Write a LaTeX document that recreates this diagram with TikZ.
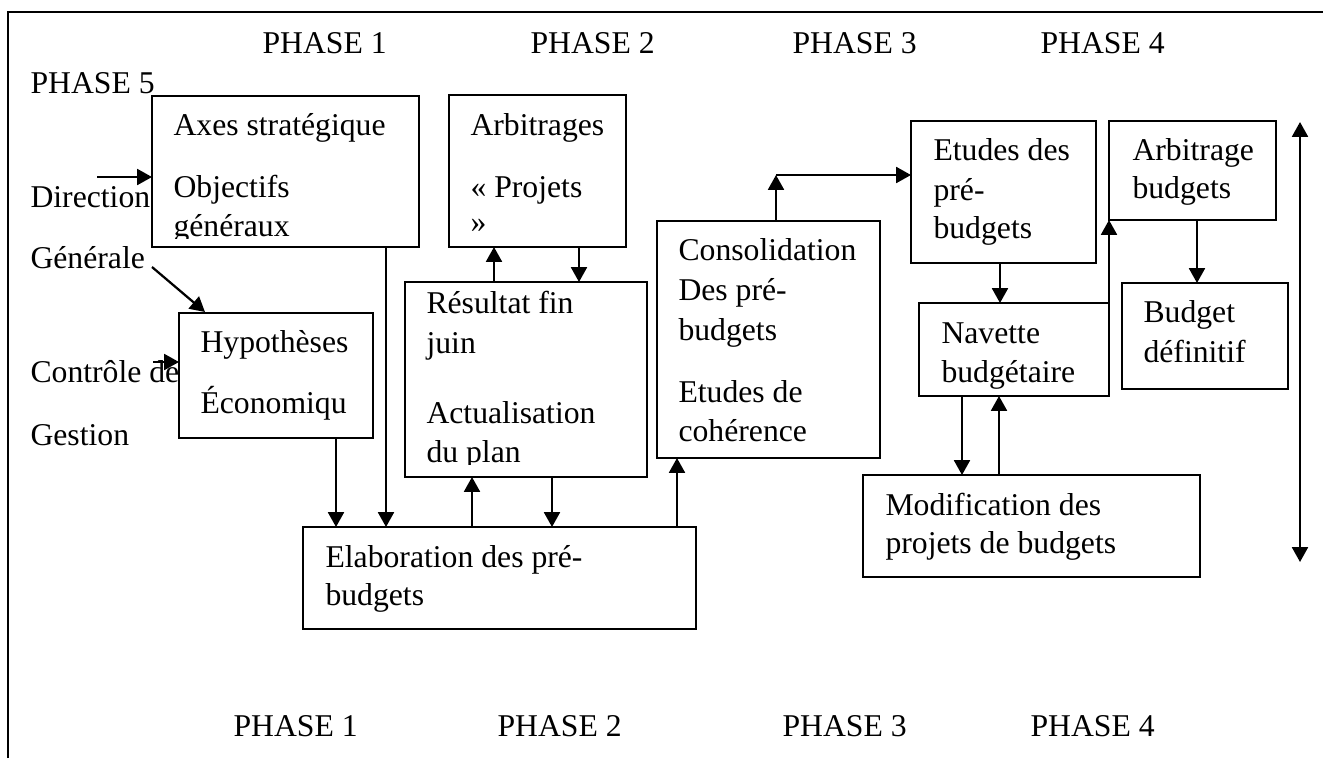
\documentclass[tikz,border=0pt]{standalone}
\usepackage{fontspec}
\setmainfont{Liberation Serif}
\usetikzlibrary{arrows.meta}
% one unit = one pixel of the layout grid, y growing downwards
\newcommand\pxu{0.3786pt}
% \procbox{name}{x1}{y1}{x2}{y2}: a framed rectangle given by its corners
\newcommand\procbox[5]{%
  \node[box, minimum width={(#4-#2)*\pxu}, minimum height={(#5-#3)*\pxu}]
    (#1) at ({(#2+#4)/2},{(#3+#5)/2}) {};}
\begin{document}
\begin{tikzpicture}[x=\pxu, y=-\pxu,
  box/.style={draw, line width=0.7pt, rectangle, inner sep=0pt, outer sep=0pt},
  lbl/.style={anchor=base west, inner sep=0pt, font=\fontsize{12}{14}\selectfont},
  arr/.style={line width=0.85pt, -{Triangle[length=5.6pt,width=6pt]}},
  dblarr/.style={line width=0.85pt, {Triangle[length=5.6pt,width=6pt]}-{Triangle[length=5.6pt,width=6pt]}},
  frame/.style={line width=0.75pt}]
\useasboundingbox (0,0) rectangle (1323,758);

% page frame (top and left rules)
\coordinate (fBL) at (8,758);
\coordinate (fTL) at (8,12);
\coordinate (fTR) at (1323,12);
\draw[frame] (fBL) -- (fTL) -- (fTR);

% phase headings
\node[lbl] (ph1) at (262,53) {PHASE 1};
\node[lbl] (ph2) at (530,53) {PHASE 2};
\node[lbl] (ph3) at (792,53) {PHASE 3};
\node[lbl] (ph4) at (1040,53) {PHASE 4};
\node[lbl] (ph5) at (30,93) {PHASE 5};

% phase footers
\node[lbl] (fp1) at (233,736) {PHASE 1};
\node[lbl] (fp2) at (497,736) {PHASE 2};
\node[lbl] (fp3) at (782,736) {PHASE 3};
\node[lbl] (fp4) at (1030,736) {PHASE 4};

% actors on the left
\node[lbl] (dir)  at (30,207) {Direction};
\node[lbl] (gen)  at (30,268) {Générale};
\node[lbl] (ctrl) at (30,382) {Contrôle de};
\node[lbl] (gest) at (30,445) {Gestion};

% process boxes
\procbox{axes}{152}{96}{419}{247}
\procbox{hyp}{179}{313}{373}{438}
\procbox{elab}{303}{527}{696}{629}
\procbox{res}{405}{282}{647}{477}
\procbox{arb}{449}{95}{626}{247}
\procbox{cons}{657}{221}{880}{458}
\procbox{etu}{911}{121}{1096}{263}
\procbox{nav}{919}{303}{1109}{396}
\procbox{arbb}{1109}{121}{1276}{220}
\procbox{bdef}{1122}{283}{1288}{389}
\procbox{modif}{863}{475}{1200}{577}

% box texts
\begin{scope}
  \clip (152,96) rectangle (419,238);
  \node[lbl] (t1) at (173,135) {Axes stratégique};
  \node[lbl] (t2) at (173,197) {Objectifs};
  \node[lbl] (t3) at (173,236) {généraux};
\end{scope}
\node[lbl] (t4) at (470,135) {Arbitrages};
\node[lbl] (t5) at (470,197) {« Projets};
\node[lbl] (t6) at (470,232) {»};
\node[lbl] (t7) at (200,352) {Hypothèses};
\node[lbl] (t8) at (200,413) {Économiqu};
\begin{scope}
  \clip (405,282) rectangle (647,464);
  \node[lbl] (t9)  at (426,313) {Résultat fin};
  \node[lbl] (t10) at (426,353) {juin};
  \node[lbl] (t11) at (426,423) {Actualisation};
  \node[lbl] (t12) at (426,462) {du plan};
\end{scope}
\node[lbl] (t13) at (325,567) {Elaboration des pré-};
\node[lbl] (t14) at (325,605) {budgets};
\node[lbl] (t15) at (678,260) {Consolidation};
\node[lbl] (t16) at (678,300) {Des pré-};
\node[lbl] (t17) at (678,340) {budgets};
\node[lbl] (t18) at (678,402) {Etudes de};
\node[lbl] (t19) at (678,441) {cohérence};
\node[lbl] (t20) at (933,160) {Etudes des};
\node[lbl] (t21) at (933,200) {pré-};
\node[lbl] (t22) at (933,238) {budgets};
\node[lbl] (t23) at (1132,160) {Arbitrage};
\node[lbl] (t24) at (1132,198) {budgets};
\node[lbl] (t25) at (941,343) {Navette};
\node[lbl] (t26) at (941,382) {budgétaire};
\node[lbl] (t27) at (1143,322) {Budget};
\node[lbl] (t28) at (1143,362) {définitif};
\node[lbl] (t29) at (885,515) {Modification des};
\node[lbl] (t30) at (885,553) {projets de budgets};

% x positions of the vertical connectors
\coordinate (xHyp)  at (336,0);
\coordinate (xAxes) at (386,0);
\coordinate (xUp1)  at (472,0);
\coordinate (xDn1)  at (552,0);
\coordinate (xUp2)  at (494,0);
\coordinate (xDn2)  at (579,0);
\coordinate (xCons) at (677,0);
\coordinate (xOut)  at (776,0);
\coordinate (xEtu)  at (1000,0);
\coordinate (xArbb) at (1197,0);
\coordinate (xDn3)  at (962,0);
\coordinate (xUp3)  at (999,0);

% free ends
\coordinate (dirS)  at (97,177);
\coordinate (genS)  at (152,267);
\coordinate (genT)  at (205,312);
\coordinate (ctrlS) at (153,362);
\coordinate (bend)  at (776,175);
\coordinate (spanT) at (1300,122);
\coordinate (spanB) at (1300,562);

% connectors
\draw[arr] (dirS) -- (axes.west |- dirS);
\draw[arr] (genS) -- (genT);
\draw[arr] (ctrlS) -- (hyp.west |- ctrlS);
\draw[arr] (hyp.south -| xHyp) -- (elab.north -| xHyp);
\draw[arr] (axes.south -| xAxes) -- (elab.north -| xAxes);
\draw[arr] (elab.north -| xUp1) -- (res.south -| xUp1);
\draw[arr] (res.south -| xDn1) -- (elab.north -| xDn1);
\draw[arr] (res.north -| xUp2) -- (arb.south -| xUp2);
\draw[arr] (arb.south -| xDn2) -- (res.north -| xDn2);
\draw[arr] (elab.north -| xCons) -- (cons.south -| xCons);
\draw[arr] (cons.north -| xOut) -- (bend);
\draw[arr] (bend) -- (etu.west |- bend);
\draw[arr] (etu.south -| xEtu) -- (nav.north -| xEtu);
\draw[arr] (nav.north east) -- (arbb.south west);
\draw[arr] (arbb.south -| xArbb) -- (bdef.north -| xArbb);
\draw[arr] (nav.south -| xDn3) -- (modif.north -| xDn3);
\draw[arr] (modif.north -| xUp3) -- (nav.south -| xUp3);
\draw[dblarr] (spanT) -- (spanB);
\end{tikzpicture}
\end{document}
